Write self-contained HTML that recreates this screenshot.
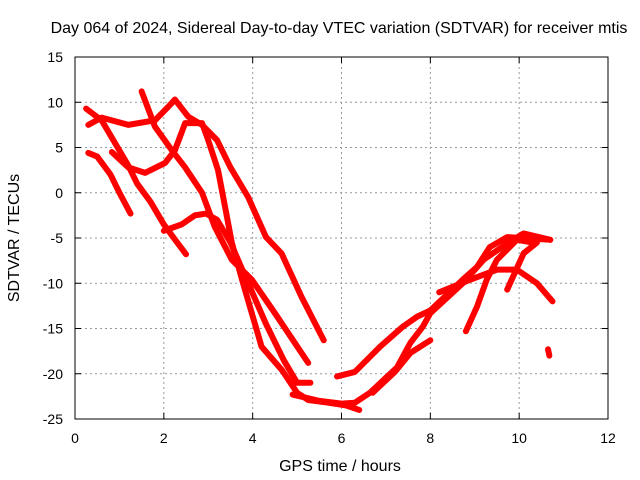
<!DOCTYPE html>
<html><head><meta charset="utf-8"><style>
body{margin:0;background:#fff;}
svg{display:block;font-family:"Liberation Sans",sans-serif;}
</style></head><body>
<svg id="chart" width="640" height="480">
<rect width="640" height="480" fill="#fff"/>
<text x="339" y="33" text-anchor="middle" font-size="16">Day 064 of 2024, Sidereal Day-to-day VTEC variation (SDTVAR) for receiver mtis</text>
<text x="340" y="471" text-anchor="middle" font-size="16">GPS time / hours</text>
<text transform="translate(19,238) rotate(-90)" text-anchor="middle" font-size="16">SDTVAR / TECUs</text>
<g id="grid"></g><g id="series"></g><g id="axes"></g>
</svg>
<script>
const xTicks=[0,2,4,6,8,10,12];
const yTicks=[15,10,5,0,-5,-10,-15,-20,-25];
const s1=[[0.3,4.4],[0.5,4.0],[0.8,2.0],[1.0,0],[1.25,-2.3]];
const s2=[[0.25,9.3],[0.6,8],[0.9,5.5],[1.2,3],[1.4,1],[1.7,-1],[2.0,-3.5],[2.3,-5.5],[2.5,-6.8]];
const s3=[[0.3,7.5],[0.6,8.3],[1.2,7.5],[1.8,8],[2.1,9.5],[2.25,10.3],[2.55,8.4],[2.86,7.5],[3.2,5.8],[3.5,2.8],[3.9,-0.5],[4.3,-4.9],[4.65,-6.7],[5.1,-11.5],[5.6,-16.3]];
const s4=[[1.5,11.2],[1.8,7.3],[2.18,4.7],[2.48,2.8],[2.86,0],[3.15,-3.8],[3.53,-7.4],[3.98,-9.6],[4.5,-13.3],[5.25,-18.8]];
const s5=[[0.83,4.5],[1.2,2.8],[1.58,2.2],[2.03,3.3],[2.25,4.7],[2.48,7.7],[2.86,7.7],[3.0,5.8],[3.22,2.5],[3.38,-1.6],[3.53,-5.5],[3.76,-9.6],[3.98,-13.3],[4.2,-17],[4.66,-19.6],[5.0,-22.1],[5.25,-22.9],[5.7,-23.2],[6.1,-23.5],[6.4,-24]];
const s6=[[2.0,-4.2],[2.4,-3.5],[2.7,-2.5],[2.95,-2.3],[3.2,-3],[3.5,-5.5],[3.9,-10],[4.3,-14.5],[4.7,-18.5],[5.0,-21],[5.3,-21]];
const s7=[[4.9,-22.3],[5.5,-23],[6.0,-23.3],[6.3,-23.2],[6.64,-22.1],[7.25,-19.3],[7.55,-16.6],[7.83,-14.8],[8.0,-13.3],[8.73,-10],[9.2,-7.4],[9.73,-5.6],[10.1,-4.5],[10.7,-5.2]];
const s8=[[5.9,-20.3],[6.3,-19.8],[6.87,-17],[7.38,-14.8],[7.7,-13.7],[8.0,-13],[8.73,-9.6],[9.05,-8.2],[9.34,-6],[9.73,-4.9],[10.7,-5.2]];
const s9=[[6.7,-22.1],[7.2,-19.8],[7.55,-17.7],[8.0,-16.3]];
const s10=[[8.8,-15.3],[9.05,-12.6],[9.27,-9.6],[9.5,-7.4],[9.95,-5.2],[10.3,-5.5]];
const s11=[[9.73,-10.7],[10.1,-6.7],[10.4,-5.5]];
const s12=[[8.2,-11],[8.9,-9.6],[9.5,-8.5],[9.95,-8.5],[10.4,-10],[10.75,-12]];
const s13=[[10.65,-17.3],[10.68,-18.0]];
const allSeries=[s1,s2,s3,s4,s5,s6,s7,s8,s9,s10,s11,s12,s13];
const X0=75,X1=608,Y0=57,Y1=419;
const xs=h=>X0+(h-0)/(12-0)*(X1-X0);
const ys=v=>Y0+(15-v)/(15-(-25))*(Y1-Y0);
const NS="http://www.w3.org/2000/svg";
function mk(t,a,p){const e=document.createElementNS(NS,t);for(const k in a)e.setAttribute(k,a[k]);p.appendChild(e);return e;}
const grid=document.getElementById('grid'),axes=document.getElementById('axes'),ser=document.getElementById('series');
xTicks.forEach(t=>{const x=xs(t);
 if(t>0&&t<12){const g=mk('line',{x1:x,x2:x,y1:Y0,y2:Y1,stroke:'#999','stroke-dasharray':'2,3'},grid);
 
 }
 mk('line',{x1:x,x2:x,y1:Y1,y2:Y1-6,stroke:'#000'},axes);mk('line',{x1:x,x2:x,y1:Y0,y2:Y0+6,stroke:'#000'},axes);
 const l=mk('text',{x:x,y:Y1+24,'text-anchor':'middle','font-size':'14'},axes);l.textContent=t;
 
 });
yTicks.forEach(t=>{const y=ys(t);
 if(t<15&&t>-25){const g=mk('line',{x1:X0,x2:X1,y1:y,y2:y,stroke:'#999','stroke-dasharray':'2,3'},grid);
 
 }
 mk('line',{x1:X0,x2:X0+6,y1:y,y2:y,stroke:'#000'},axes);mk('line',{x1:X1,x2:X1-6,y1:y,y2:y,stroke:'#000'},axes);
 const l=mk('text',{x:X0-12,y:y+5,'text-anchor':'end','font-size':'14'},axes);l.textContent=t;
 
 });
const fr=mk('rect',{x:X0,y:Y0,width:X1-X0,height:Y1-Y0,fill:'none',stroke:'#000'},axes);


allSeries.forEach((s,i)=>{const p=mk('polyline',{points:s.map(d=>xs(d[0])+','+ys(d[1])).join(' '),fill:'none',stroke:'#f00','stroke-width':6,'stroke-linejoin':'round','stroke-linecap':'round'},ser);
 
 });
</script>
</body></html>
